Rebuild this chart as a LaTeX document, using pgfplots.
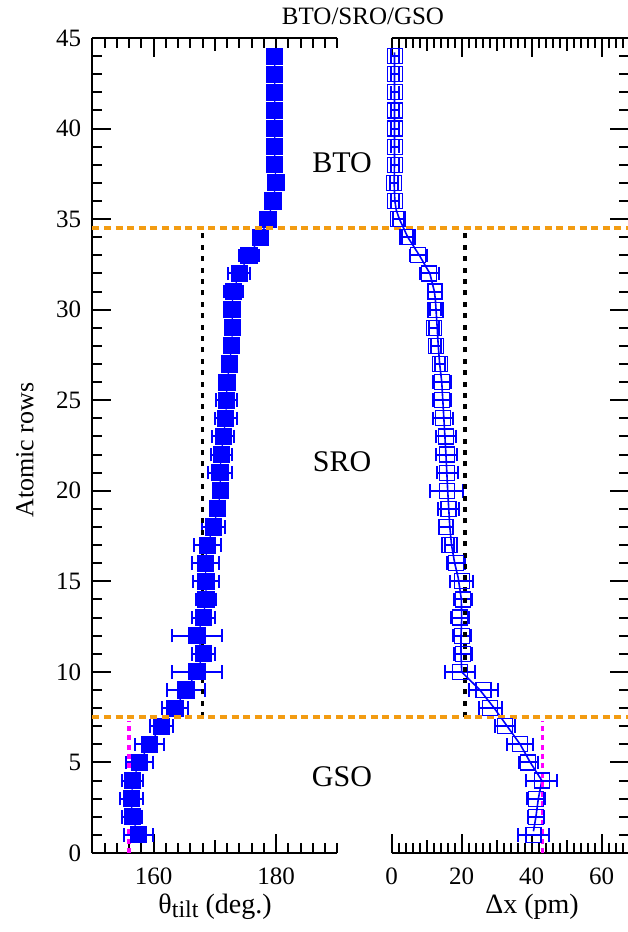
\documentclass[border=0pt]{standalone}
\usepackage{fontspec}
\setmainfont{Liberation Serif}
\usepackage{pgfplots}
\usepackage{pgfplotstable}
\pgfplotsset{compat=1.18}
\definecolor{myorange}{RGB}{243,156,18}
\definecolor{mymag}{RGB}{255,0,255}

\pgfplotstableread{
y x e
44 179.8 0.5
43 179.8 0.5
42 179.8 0.5
41 179.8 0.5
40 179.8 0.5
39 179.8 0.5
38 179.8 0.5
37 180.0 0.5
36 179.5 0.5
35 178.7 0.5
34 177.4 1.0
33 175.6 1.6
32 174.0 1.8
31 173.0 1.55
30 172.8 1.0
29 172.9 1.0
28 172.75 1.0
27 172.4 1.0
26 172.0 1.0
25 171.9 1.7
24 171.8 1.8
23 171.4 1.8
22 171.05 1.75
21 170.85 1.9
20 170.95 1.0
19 170.5 1.0
18 169.75 1.9
17 168.8 2.15
16 168.45 2.2
15 168.55 2.15
14 168.55 1.6
13 168.1 1.9
12 167.1 4.1
11 168.1 1.9
10 167.1 4.1
9 165.3 3.1
8 163.5 2.1
7 161.3 1.8
6 159.3 2.4
5 157.7 2.15
4 156.6 1.7
3 156.4 1.9
2 156.5 1.6
1 157.5 2.4
}\lefttab

\pgfplotstableread{
y x e
44 0.9 1.2
43 0.9 1.2
42 0.9 1.2
41 0.9 1.2
40 0.9 1.2
39 0.9 1.2
38 0.9 1.2
37 0.7 1.2
36 0.9 1.2
35 1.9 1.5
34 4.5 1.5
33 7.6 2.4
32 10.7 2.7
31 12.4 2.1
30 12.5 1.5
29 12.1 1.5
28 12.6 1.5
27 13.8 1.5
26 14.3 2.6
25 14.3 2.6
24 14.6 2.8
23 15.5 2.9
22 15.7 3.0
21 15.9 2.9
20 15.7 4.8
19 16.2 2.9
18 15.5 1.9
17 16.5 1.2
16 18.4 2.5
15 20.0 3.3
14 20.3 2.5
13 19.5 2.7
12 20.0 2.6
11 20.3 2.6
10 19.5 4.3
9 26.2 4.1
8 28.1 3.3
7 32.4 2.9
6 36.7 3.7
5 39.0 2.7
4 42.9 4.4
3 41.2 2.5
2 41.2 2.4
1 40.5 4.5
}\righttab

\pgfplotstableread{
y x
44.2 0.8
41 0.8
38 0.8
37 0.7
36 0.9
35.5 1.3
35 2.2
34 4.6
33 7.9
32 10.9
31 12.2
30.5 12.5
29 13.0
28 13.3
27 13.7
26 14.3
24 14.9
22 15.5
20 16.0
18 16.6
17 17.1
16 18.0
15.2 19.0
14 19.9
13 20.0
12 19.8
11 19.8
10 20.0
9 25.2
8 29.3
7 33.0
6 36.7
5 39.6
4 42.9
3 41.9
2 41.2
1.2 40.5
}\fittab

\begin{document}
\begin{tikzpicture}
\path[use as bounding box] (-46.15pt,-39.5pt) rectangle (267.35pt,426.5pt);
\pgfplotsset{
  common/.style={
    scale only axis, height=407.5pt, ymin=0, ymax=45,
    ytick={0,5,...,45}, minor ytick={0,1,...,45},
    axis x line*=box,
    tick align=inside,
    major tick length=9.5pt, minor tick length=5pt,
    every tick/.append style={black, line width=1pt},
    axis line style={line width=1pt},
    tick label style={font=\rmfamily\fontsize{12.5}{14}\selectfont},
    xticklabel style={yshift=-4pt},
    /pgf/number format/assume math mode=true,
    clip=false,
  }
}
\begin{axis}[common, at={(0,0)}, anchor=south west, width=122.5pt,
  xmin=150, xmax=190, xtick={160,180}, minor xtick={150,152,...,190},
  extra x ticks={170}, extra x tick labels={}, extra x tick style={major tick length=6.5pt},
  axis y line*=left, tick align=inside, ytick pos=left,
  yticklabel style={xshift=-2pt}]
\addplot[blue, line width=0.6pt, mark=square*, mark size=4pt, mark options={solid},
  error bars/.cd, x dir=both, x explicit,
  error bar style={line width=1pt, blue},
  error mark options={blue, mark size=3.4pt, line width=1pt, rotate=90}]
  table[x=x, y=y, x error=e] {\lefttab};
\addplot[black, line width=1.7pt, dash pattern=on 2.5pt off 3.2pt] coordinates {(168,7.5) (168,34.5)};
\addplot[mymag, line width=1.7pt, dash pattern=on 2.5pt off 2.2pt] coordinates {(156,0) (156,7.3)};
\end{axis}

\begin{axis}[common, at={(149.7pt,0)}, anchor=south west, width=118.65pt,
  xmin=0, xmax=67.8, xtick={0,20,40,60}, minor xtick={0,2,...,66},
  extra x ticks={10,30,50}, extra x tick labels={}, extra x tick style={major tick length=6.5pt},
  axis y line*=right, tick align=inside, ytick pos=right, yticklabels={}]
\addplot[blue, only marks, mark=square, mark size=3.75pt, mark options={line width=0.6pt, solid},
  error bars/.cd, x dir=both, x explicit,
  error bar style={line width=1pt, blue},
  error mark options={blue, mark size=3.4pt, line width=1pt, rotate=90}]
  table[x=x, y=y, x error=e] {\righttab};
\addplot[blue, line width=0.8pt, no marks] table[x=x, y=y] {\fittab};
\addplot[black, line width=1.7pt, dash pattern=on 2.5pt off 3.2pt] coordinates {(20.9,7.5) (20.9,34.5)};
\addplot[mymag, line width=1.7pt, dash pattern=on 2.5pt off 2.2pt] coordinates {(43.1,0) (43.1,7.3)};
\addplot[myorange, line width=2pt, dash pattern=on 3.5pt off 2.3pt] coordinates {(-85.5,34.5) (67.8,34.5)};
\addplot[myorange, line width=2pt, dash pattern=on 3.5pt off 2.3pt] coordinates {(-85.5,7.5) (67.8,7.5)};
\end{axis}

\node[anchor=base, font=\fontsize{12.5}{15}\selectfont] at (135.35pt,414pt) {BTO/SRO/GSO};
\node[font=\fontsize{15}{18}\selectfont] at (124.85pt,345pt) {BTO};
\node[font=\fontsize{15}{18}\selectfont] at (124.85pt,195.5pt) {SRO};
\node[font=\fontsize{15}{18}\selectfont] at (124.85pt,38.15pt) {GSO};
\node[anchor=base, font=\fontsize{14}{16}\selectfont] at (61.35pt,-30pt) {θ\raisebox{-0.35ex}{\fontsize{12}{14}\selectfont tilt} (deg.)};
\node[anchor=base, font=\fontsize{14}{16}\selectfont] at (219.85pt,-30pt) {Δx (pm)};
\node[rotate=90, font=\fontsize{13}{15}\selectfont] at (-33.65pt,201.5pt) {Atomic rows};
\end{tikzpicture}
\end{document}
